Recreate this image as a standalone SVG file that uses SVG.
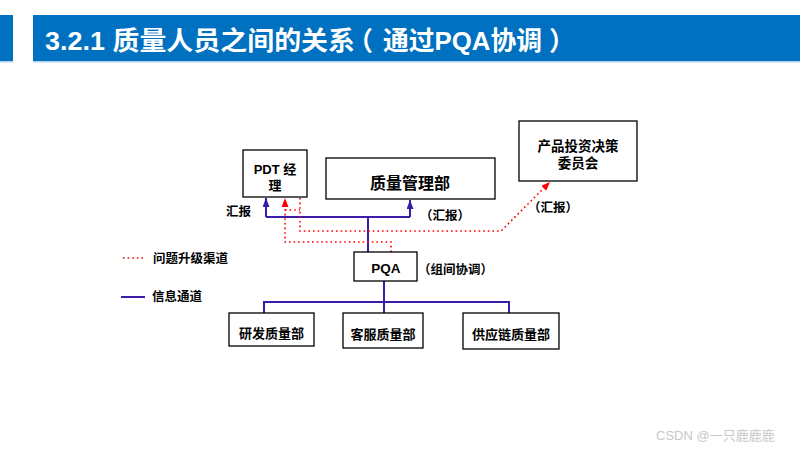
<svg xmlns="http://www.w3.org/2000/svg" width="800" height="450" viewBox="0 0 800 450">
<defs>
<style>
text{font-family:"Liberation Sans","Noto Sans CJK SC",sans-serif;font-weight:bold;fill:#000}
.box{fill:#fff;stroke:#000;stroke-width:1.3}
.blue{fill:none;stroke:#3a1ca8;stroke-width:2}
.red{fill:none;stroke:#ff0000;stroke-width:1.6;stroke-dasharray:1.6 3}
.t13{font-size:13px;text-anchor:middle}
.lbl{font-size:12.5px}
.ttl{font-size:26px;fill:#fff}
</style>
<marker id="ab" viewBox="0 0 9 7" refX="9" refY="3.5" markerWidth="9" markerHeight="7" markerUnits="userSpaceOnUse" orient="auto">
<path d="M0,0 L9,3.5 L0,7 Z" fill="#3a1ca8"/>
</marker>
<marker id="ar" viewBox="0 0 9 7" refX="9" refY="3.5" markerWidth="9" markerHeight="7" markerUnits="userSpaceOnUse" orient="auto">
<path d="M0,0 L9,3.5 L0,7 Z" fill="#ff0000"/>
</marker>
</defs>
<rect width="800" height="450" fill="#fff"/>
<g id="header">
<rect x="0" y="15" width="13" height="46" fill="#0070c0"/>
<rect x="33" y="15" width="767" height="46" fill="#0070c0"/>
<rect x="0" y="61" width="13" height="1.5" fill="#b4d2ee"/>
<rect x="33" y="61" width="767" height="1.5" fill="#b4d2ee"/>
<text class="ttl" x="45" y="50" textLength="310" lengthAdjust="spacingAndGlyphs">3.2.1 质量人员之间的关系</text>
<text class="ttl" x="347" y="50">（</text>
<text class="ttl" x="383" y="50" textLength="159" lengthAdjust="spacingAndGlyphs">通过PQA协调</text>
<text class="ttl" x="549" y="50">）</text>
</g>
<g id="connectors">
<path class="blue" d="M368,252 V217 M266,217 H410" />
<path class="blue" d="M266,217 V198" marker-end="url(#ab)"/>
<path class="blue" d="M410,217 V200" marker-end="url(#ab)"/>
<path class="blue" d="M384,281 V313 M264,313 V302 H509 V313"/>
<path class="red" d="M391,252 V242 H285 V198" marker-end="url(#ar)"/>
<path class="red" d="M285,210 H300 M300,198 V231 H501 L550,182" marker-end="url(#ar)"/>
</g>
<g id="pdt">
<rect class="box" x="243" y="150" width="64" height="47"/>
<text class="t13" x="275" y="174" font-size="12.5">PDT 经</text>
<text class="t13" x="275" y="190" font-size="12.5">理</text>
</g>
<g id="qmd">
<rect class="box" x="326" y="158" width="169" height="41"/>
<text x="410" y="189" font-size="16" text-anchor="middle">质量管理部</text>
</g>
<g id="committee">
<rect class="box" x="519" y="121" width="118" height="60"/>
<text x="578" y="151" font-size="13.5" text-anchor="middle">产品投资决策</text>
<text x="578" y="168" font-size="13.5" text-anchor="middle">委员会</text>
</g>
<g id="pqa">
<rect class="box" x="354" y="252" width="63" height="29"/>
<text x="386" y="273" font-size="13.5" text-anchor="middle">PQA</text>
</g>
<g id="rd">
<rect class="box" x="229" y="313" width="85" height="33"/>
<text class="t13" x="271.5" y="338">研发质量部</text>
</g>
<g id="cs">
<rect class="box" x="343" y="313" width="80" height="35"/>
<text class="t13" x="383" y="339">客服质量部</text>
</g>
<g id="sc">
<rect class="box" x="463" y="313" width="96" height="36"/>
<text class="t13" x="511" y="339">供应链质量部</text>
</g>
<g id="labels">
<text class="lbl" x="226" y="216">汇报</text>
<text class="lbl" x="420" y="220">（汇报）</text>
<text class="lbl" x="528" y="212">（汇报）</text>
<text class="lbl" x="418" y="274">（组间协调）</text>
</g>
<g id="legend">
<line x1="123" y1="258" x2="146" y2="258" class="red"/>
<text class="lbl" x="153" y="263">问题升级渠道</text>
<line x1="121" y1="297" x2="145" y2="297" stroke="#3a1ca8" stroke-width="2"/>
<text class="lbl" x="152" y="301">信息通道</text>
</g>
<text x="656" y="440" font-size="13" style="font-weight:normal;fill:#c8c8c8">CSDN @一只鹿鹿鹿</text>
</svg>
